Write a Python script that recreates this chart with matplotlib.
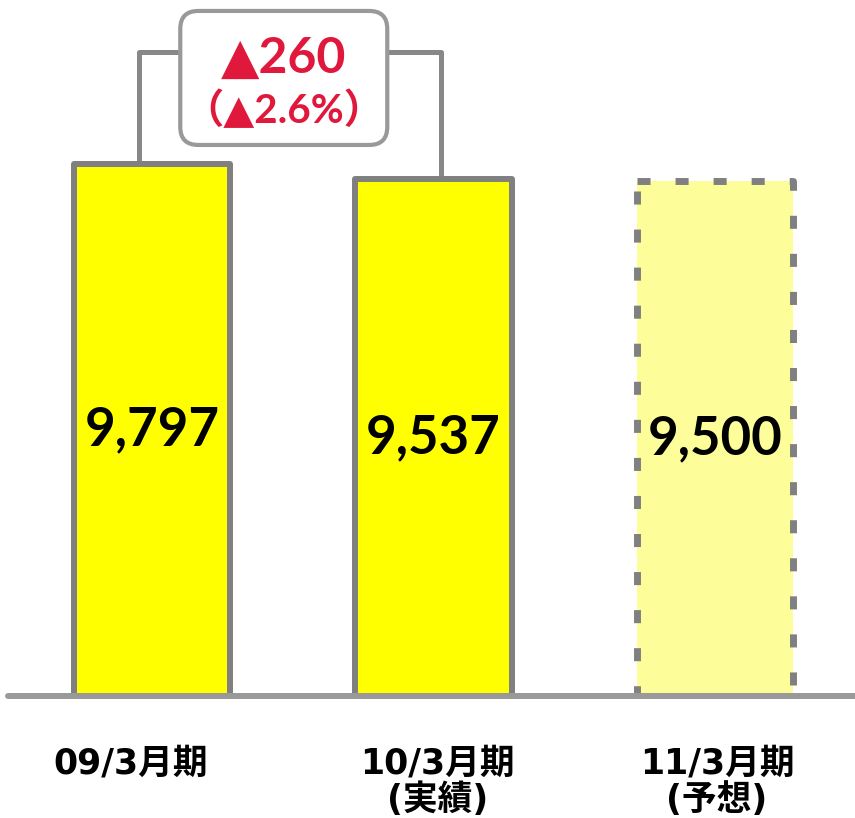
import matplotlib
matplotlib.use("Agg")
import matplotlib.pyplot as plt
from matplotlib.patches import FancyBboxPatch
from matplotlib.transforms import IdentityTransform

# Data
categories = [["09/3月期"], ["10/3月期", "(実績)"], ["11/3月期", "(予想)"]]
values = [9797, 9537, 9500]
value_labels = ["9,797", "9,537", "9,500"]
change_label = "▲260"
change_pct_label = "（▲2.6%）"

# Styling
plt.rcParams["lines.scale_dashes"] = False
YELLOW = "#FFFF00"
LIGHT_YELLOW = "#FDFD9A"
EDGE = "#808080"
BASE = "#999999"
RED = "#E0183C"
BAR_W = 0.556
label_dx = [-0.075, 0.014, 0.007]

W, H, DPI = 855, 818, 100
fig = plt.figure(figsize=(W / DPI, H / DPI), dpi=DPI)
ax = fig.add_axes([8 / W, 122 / H, 847 / W, 696 / H])
ax.set_xlim(-0.5115, 2.497)
ax.set_ylim(0, 12829)
ax.axis("off")

x = list(range(len(values)))

# Results bars
ax.bar(x[:2], values[:2], width=BAR_W, color=YELLOW, edgecolor=EDGE,
       linewidth=4.3, joinstyle="round", zorder=2)

# Forecast bar: pale fill with a dashed outline
ax.bar(x[2], values[2], width=BAR_W, color=LIGHT_YELLOW, edgecolor="none", zorder=2)
x0, x1 = x[2] - BAR_W / 2, x[2] + BAR_W / 2
top = values[2]
dash = (9.4, 18.0)
ax.plot([x0, x1, x1], [top, top, 0], color=EDGE, lw=5, linestyle=(0, dash),
        dash_capstyle="butt", zorder=3, clip_on=False)
ax.plot([x0, x0], [top, 0], color=EDGE, lw=5, linestyle=(20.2, dash),
        dash_capstyle="butt", zorder=3, clip_on=False)

# Baseline
ax.axhline(0, color=BASE, lw=4.3, solid_capstyle="round", zorder=4, clip_on=False)

# Value labels centred in each bar
for xi, v, lab in zip(x, values, value_labels):
    ax.text(xi, v / 2, lab, ha="center", va="center", fontsize=38,
            family=["Lato", "DejaVu Sans"], weight="bold", color="black",
            zorder=5)

# Category labels, one text per line
line_y = [-1420, -2110]
for xi, lines, dx in zip(x, categories, label_dx):
    for ly, line in zip(line_y, lines):
        ax.text(xi + dx, ly, line, ha="center", va="baseline", fontsize=25,
                family=["DejaVu Sans", "Noto Sans CJK JP"], weight="bold",
                clip_on=False)

# Bracket connecting the two result bars
bracket_y = values[0] * 1.2117
lx = x[0] - 0.046
rx = x[1] + 0.025
ax.plot([lx, lx, rx, rx], [values[0], bracket_y, bracket_y, values[1]],
        color="#888888", lw=3.6, solid_joinstyle="round", zorder=1)

# Rounded box holding the change figures
bx = (x[0] + x[1]) / 2 - 0.032
by = bracket_y - 479
cx, cy = ax.transData.transform((bx, by))
bw, bh = 207, 134
box = FancyBboxPatch((cx - bw / 2, cy - bh / 2), bw, bh,
                     boxstyle="round,pad=0,rounding_size=18",
                     transform=IdentityTransform(), facecolor="white",
                     edgecolor="#999999", linewidth=3, zorder=6, clip_on=False)
ax.add_patch(box)

ax.text(bx, bracket_y - 387, change_label, ha="center", va="baseline",
        fontsize=36, color=RED, family=["Lato", "DejaVu Sans"],
        weight="bold", zorder=7)
ax.text(bx, bracket_y - 1309, change_pct_label, ha="center", va="baseline",
        fontsize=29, color=RED, family=["Lato", "DejaVu Sans", "Noto Sans CJK JP"],
        weight="bold", zorder=7)

fig.savefig("out.png", dpi=DPI)
